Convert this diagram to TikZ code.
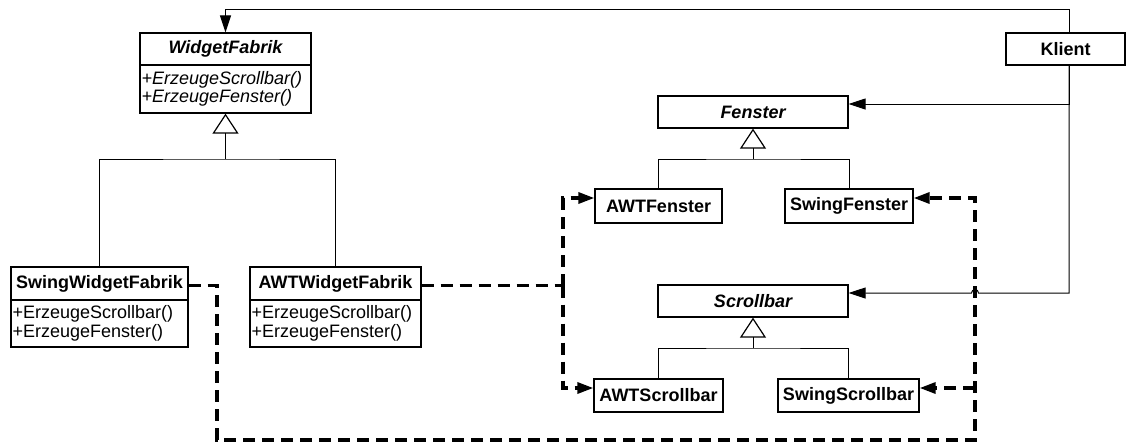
\documentclass[tikz,border=0pt]{standalone}
\usepackage{fontspec}
\setmainfont{Liberation Sans}
\usetikzlibrary{arrows.meta}
\begin{document}
\begin{tikzpicture}[x=1pt,y=-1pt,
  txt/.style={font=\fontsize{18}{18.5}\selectfont},
  cls/.style={draw, line width=1.3pt, inner sep=0pt, txt},
  title/.style={cls, font=\fontsize{18}{18.5}\selectfont\bfseries},
  abstitle/.style={cls, font=\fontsize{18}{18.5}\selectfont\bfseries\itshape},
  ops/.style={cls, align=left, inner xsep=1.6pt, inner ysep=0pt},
  absops/.style={ops, font=\fontsize{18}{18.5}\selectfont\itshape},
  link/.style={line width=1pt},
  assoc/.style={link, -{Triangle[length=17pt,width=11pt]}},
  gen/.style={link, -{Triangle[open,length=20pt,width=26pt,line width=1.2pt]}},
  depline/.style={line width=3.2pt, dash pattern=on 12pt off 7pt},
  dep/.style={depline, -{Triangle[length=16pt,width=11pt]}}
]
\useasboundingbox (0,0) rectangle (1126,444);

% abstract factory
\node[abstitle, minimum width=171pt, minimum height=32pt] (wf) at (225.5,49) {WidgetFabrik};
\node[absops, text width=167.8pt, minimum height=48pt] (wfm) at (225.5,89)
  {+ErzeugeScrollbar()\\+ErzeugeFenster()};

% concrete factories
\node[title, minimum width=177pt, minimum height=33pt] (swf) at (99.5,283.5) {SwingWidgetFabrik};
\node[ops, text width=173.8pt, minimum height=47pt] (swfm) at (99.5,323.5)
  {+ErzeugeScrollbar()\\+ErzeugeFenster()};
\node[title, minimum width=171pt, minimum height=33pt] (awf) at (335.5,283.5) {AWTWidgetFabrik};
\node[ops, text width=167.8pt, minimum height=47pt] (awfm) at (335.5,323.5)
  {+ErzeugeScrollbar()\\+ErzeugeFenster()};

% client
\node[title, minimum width=119pt, minimum height=32pt] (kl) at (1065.5,49) {Klient};

% products
\node[abstitle, minimum width=190pt, minimum height=32pt] (fe) at (753,112) {Fenster};
\node[title, minimum width=127pt, minimum height=34pt] (afe) at (658.5,206) {AWTFenster};
\node[title, minimum width=128pt, minimum height=34pt] (sfe) at (849,206) {SwingFenster};
\node[abstitle, minimum width=190pt, minimum height=32pt] (sb) at (753,301) {Scrollbar};
\node[title, minimum width=129pt, minimum height=33pt] (asb) at (658.5,395.5) {AWTScrollbar};
\node[title, minimum width=141pt, minimum height=33pt] (ssb) at (848.5,395.5) {SwingScrollbar};

% generalisations
\coordinate (j1) at (225.5,159);
\coordinate (j2) at (753,159);
\coordinate (j3) at (753,348);
\draw[link] (swf.north) |- (j1) -| (awf.north);
\draw[gen] (j1) -- (wfm.south);
\draw[link] (afe.north) |- (j2) -| (sfe.north);
\draw[gen] (j2) -- (fe.south);
\draw[link] (asb.north) |- (j3) -| (ssb.north);
\draw[gen] (j3) -- (sb.south);

% dependencies of the concrete factories
\coordinate (dA) at (563,285.5);
\coordinate (dS) at (217,285.5);
\coordinate (dR) at (975,440);
\coordinate (dB) at (975,388);
\draw[depline] ([yshift=-2pt]awf.east) -- (dA);
\draw[dep] (dA) |- ([yshift=8pt]afe.west);
\draw[dep] (dA) |- ([yshift=7.5pt]asb.west);
\draw[dep] ([yshift=-2pt]swf.east) -- (dS) |- (dR) |- ([yshift=8pt]sfe.east);
\draw[dep] (dB) -- ([yshift=7.5pt]ssb.east);

% client associations
\draw[assoc] ([xshift=3.5pt]kl.north) -- ++(0,-23) -| (wf.north);
\draw[assoc] ([xshift=3.5pt]kl.south) |- ([yshift=8pt]fe.east);
\draw[assoc] ([xshift=3.5pt]kl.south) |- (978.5,293)
  arc[start angle=0, end angle=180, radius=3.5pt] -- ([yshift=8pt]sb.east);
\end{tikzpicture}
\end{document}
